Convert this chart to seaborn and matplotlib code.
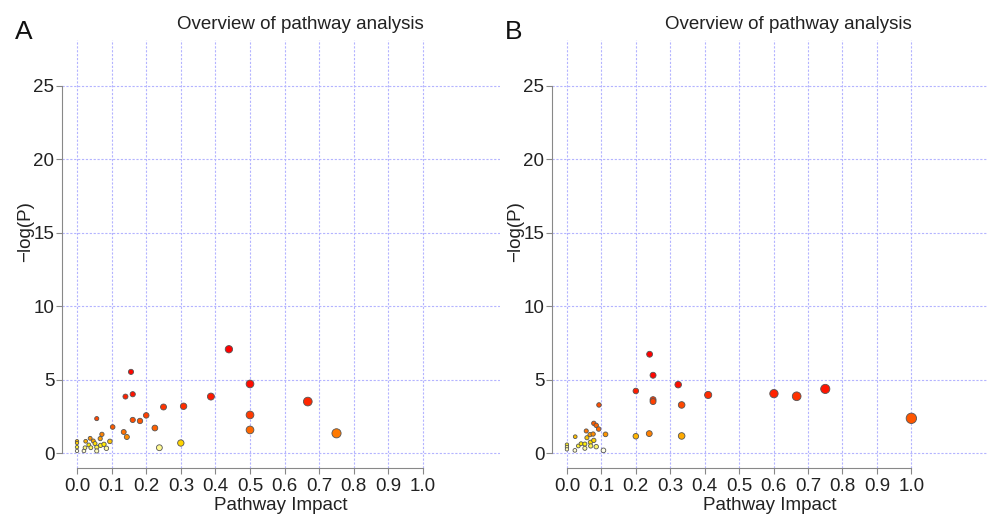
import numpy as np
import pandas as pd
import matplotlib
matplotlib.use("Agg")
import matplotlib.pyplot as plt
from matplotlib.colors import LinearSegmentedColormap
import seaborn as sns

# ---- data ----
impact_A = [0.439, 0.50, 0.50, 0.50, 0.387, 0.308, 0.25, 0.20, 0.182, 0.161, 0.225,
            0.156, 0.161, 0.140, 0.103, 0.057, 0.135, 0.144, 0.095, 0.072, 0.067,
            0.038, 0.025, 0.047, 0.052, 0.034, 0.078, 0.068, 0.057, 0.040, 0.023,
            0.085, 0.057, 0.020, 0.0, 0.0, 0.0, 0.0, 0.238, 0.30, 0.75, 0.667]
logp_A = [7.06, 4.70, 2.59, 1.57, 3.84, 3.18, 3.13, 2.56, 2.18, 2.25, 1.70,
          5.52, 4.00, 3.84, 1.77, 2.34, 1.43, 1.09, 0.79, 1.27, 0.98,
          1.00, 0.80, 0.82, 0.64, 0.55, 0.59, 0.52, 0.39, 0.36, 0.36,
          0.32, 0.14, 0.14, 0.80, 0.68, 0.40, 0.14, 0.36, 0.68, 1.34, 3.50]

impact_B = [0.240, 0.25, 0.323, 0.41, 0.20, 0.25, 0.25, 0.333, 0.093, 0.078, 0.085,
            0.092, 0.056, 0.112, 0.20, 0.239, 0.333, 0.076, 0.067, 0.024, 0.058,
            0.078, 0.041, 0.033, 0.052, 0.068, 0.069, 0.085, 0.052, 0.023, 0.106,
            0.0, 0.0, 0.0, 0.601, 0.667, 0.75, 1.0]
logp_B = [6.72, 5.29, 4.65, 3.95, 4.22, 3.63, 3.50, 3.27, 3.27, 2.02, 1.88,
          1.63, 1.50, 1.27, 1.14, 1.32, 1.16, 1.29, 1.25, 1.11, 1.04,
          0.86, 0.63, 0.48, 0.61, 0.73, 0.48, 0.43, 0.32, 0.18, 0.18,
          0.57, 0.41, 0.25, 4.04, 3.86, 4.36, 2.36]

x_ticks = [0.0, 0.1, 0.2, 0.3, 0.4, 0.5, 0.6, 0.7, 0.8, 0.9, 1.0]
y_ticks = [0, 5, 10, 15, 20, 25]
title = "Overview of pathway analysis"
panel_labels = ["A", "B"]

sns.set_theme(style="white")
plt.rcParams["font.family"] = ["Liberation Sans", "DejaVu Sans"]

heat = LinearSegmentedColormap.from_list(
    "heat", [(0.0, "#ff0000"), (0.40, "#ff6a00"), (0.75, "#ffee00"), (1.0, "#ffffe8")])

fig = plt.figure(figsize=(9.88, 5.15), dpi=100)
W, H = 988, 515
axes_px = [(62, 500), (552, 988)]
title_center_px = [300, 788]
top_px, bot_px = 40, 468
ah = bot_px - top_px

for i, ((l, r), imp, lp) in enumerate(zip(axes_px, [impact_A, impact_B], [logp_A, logp_B])):
    aw = r - l
    ax = fig.add_axes([l / W, (H - bot_px) / H, aw / W, ah / H])
    df = pd.DataFrame({"impact": imp, "logp": lp})
    df["rank"] = df["logp"].rank(ascending=False, method="first")
    df["rank"] = (df["rank"] - 1) / (len(df) - 1)
    df = df.sort_values("impact")
    sns.scatterplot(data=df, x="impact", y="logp", hue="rank", palette=heat,
                    hue_norm=(0, 1), size="impact", sizes=(6, 56), size_norm=(0, 1),
                    edgecolor="#555555", linewidth=0.6, legend=False, ax=ax, zorder=3)
    ax.set_xlim(-0.0434, 1.2225)
    ax.set_ylim(-1.02, 28.1)
    for xv in x_ticks:
        ax.axvline(xv, color="#b4b4ff", lw=0.8, ls=(0, (2, 1.5)), zorder=1)
    for yv in y_ticks:
        ax.axhline(yv, color="#b4b4ff", lw=0.8, ls=(0, (2, 1.5)), zorder=1)
    ax.set_xticks(x_ticks)
    ax.set_xticklabels([f"{v:.1f}" for v in x_ticks])
    ax.set_yticks(y_ticks)
    ax.set_yticklabels([str(v) for v in y_ticks])
    ax.tick_params(axis="both", labelsize=13.5, colors="#222222", length=4, width=0.8,
                   direction="out", bottom=True, left=True)
    ax.tick_params(axis="x", pad=3)
    ax.tick_params(axis="y", pad=1.5)
    ax.tick_params(axis="both", color="#888888")
    for s in ["top", "right"]:
        ax.spines[s].set_visible(False)
    ax.spines["left"].set_bounds(0, 25)
    ax.spines["bottom"].set_bounds(0, 1)
    for s in ["left", "bottom"]:
        ax.spines[s].set_color("#888888")
        ax.spines[s].set_linewidth(0.8)
    ax.set_xlabel("Pathway Impact", fontsize=13.5, color="#222222")
    ax.xaxis.set_label_coords(0.5, -(506 - bot_px) / ah)
    ax.xaxis.label.set_va("center")
    ax.set_ylabel("\u2212log(P)", fontsize=13.5, color="#222222")
    ax.yaxis.set_label_coords((26 - 62) / aw, (bot_px - 232) / ah)
    ax.yaxis.label.set_va("center")
    ax.text((title_center_px[i] - l) / aw, (bot_px - 29) / ah, title,
            transform=ax.transAxes, fontsize=13.5, color="#222222",
            ha="center", va="baseline")
    fig.text((l - 47) / W, (H - 39) / H, panel_labels[i], fontsize=19, color="#111111",
             ha="left", va="baseline")

fig.savefig("out.png", dpi=100)
